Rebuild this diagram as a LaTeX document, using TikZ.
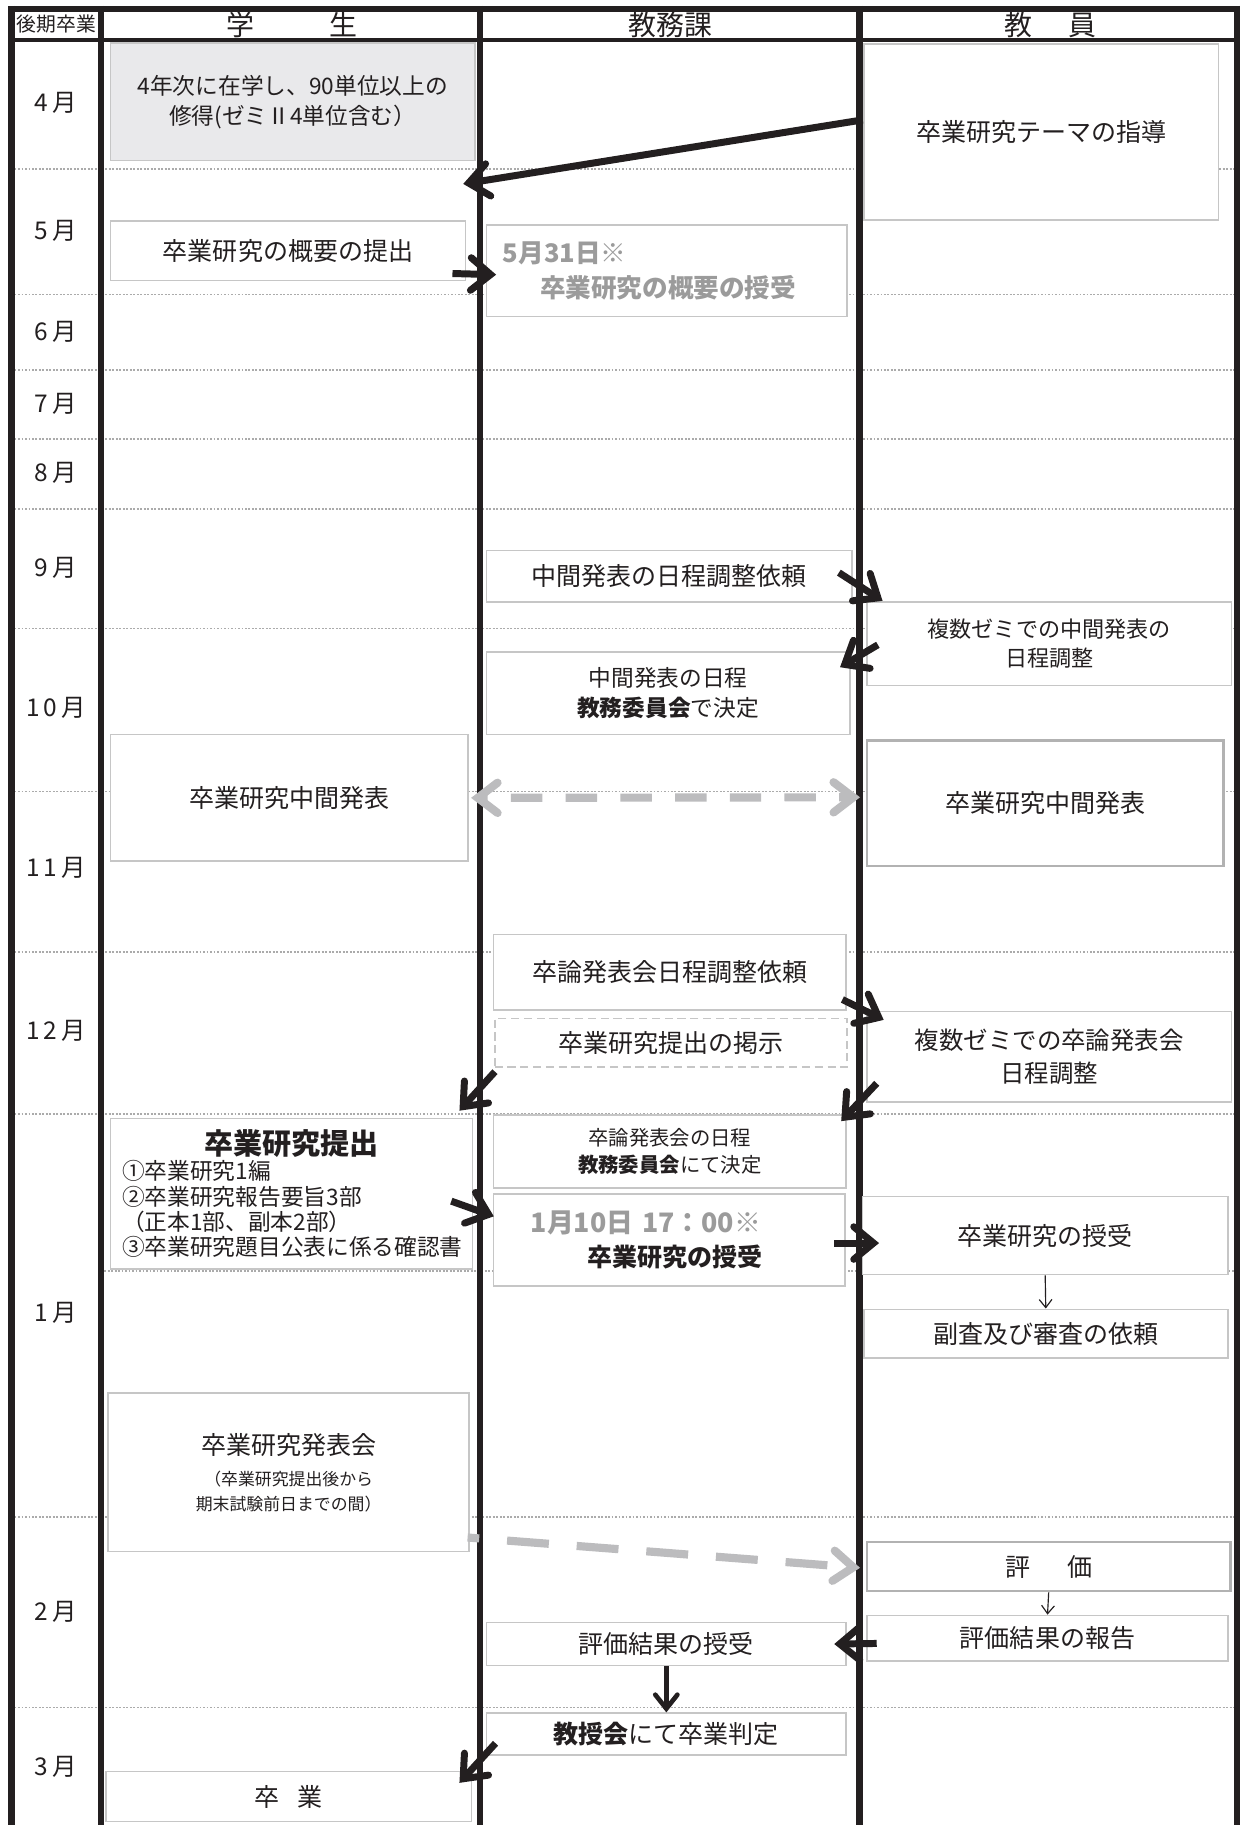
\documentclass[tikz,border=0pt]{standalone}
\usepackage{fontspec}
\setmainfont{Noto Sans CJK JP}
\usetikzlibrary{arrows.meta}
\definecolor{ink}{HTML}{231F20}
\definecolor{boxgray}{HTML}{C6C6C6}
\definecolor{fillgray}{HTML}{E9E9EB}
\definecolor{dotgray}{HTML}{ABABAB}
\definecolor{arrowgray}{HTML}{BCBCBE}
\definecolor{textgray}{HTML}{9B9B9B}
\newcommand\fsz[2]{\fontsize{#1pt}{#2pt}\selectfont}
\begin{document}
\begin{tikzpicture}[x=1pt,y=-1pt,
  every node/.append style={text=ink},
  box/.style={draw=boxgray, line width=1.5pt, fill=white, inner sep=0pt, align=center, font=\fsz{21.5}{26}},
  frameline/.style={draw=ink, line width=5.5pt},
  monthline/.style={draw=dotgray, line width=1.6pt, dash pattern=on 1.6pt off 1.4pt},
  fat/.style={draw=ink, line width=6pt, -{Straight Barb[length=17pt,width=28pt,line cap=round,line join=miter]}},
  midarrow/.style={draw=ink, line width=4pt, -{Straight Barb[length=12pt,width=19pt,line cap=round,line join=miter]}},
  thinarrow/.style={draw=ink, line width=1pt, -{Straight Barb[length=7pt,width=11pt]}},
  gtip/.tip={Straight Barb[length=17pt,width=26pt,line cap=round,line join=miter]},
  gdash/.style={draw=arrowgray, line width=7pt},
  month/.style={font=\fsz{21}{25}},
  head/.style={font=\fsz{24}{28}}
]
\path[use as bounding box, fill=white] (0,0) rectangle (1065,1568);

% month divider lines
\foreach \yy in {145,253,318,377,437,540,680,818,957,1303,1467}
  \draw[monthline] (12.5,\yy) -- (1060,\yy);
\draw[monthline] (89.5,1092) -- (1060,1092);

% frame
\draw[frameline] (7.5,7.6) -- (1065,7.6);
\draw[draw=ink, line width=3.8pt] (10,34.5) -- (1062.5,34.5);
\foreach \xx in {10,87,412.5,738.5}
  \draw[frameline] (\xx,5.1) -- (\xx,1568);
\draw[draw=ink, line width=4.5pt] (1062.75,5.1) -- (1062.75,1568);

% header
\node[font=\fsz{17}{20}] (hA) at (48.5,21) {後期卒業};
\node[head] (hB) at (251,21.5) {学\hspace{64pt}生};
\node[head] (hC) at (576,21.5) {教務課};
\node[head] (hD) at (902.5,21.5) {教\hspace{31pt}員};

% months
\node[month] (m4) at (48,88) {4\,月};
\node[month] (m5) at (48,198) {5\,月};
\node[month] (m6) at (48,285) {6\,月};
\node[month] (m7) at (48,347) {7\,月};
\node[month] (m8) at (48,406) {8\,月};
\node[month] (m9) at (48,488) {9\,月};
\node[month] (m10) at (48,608) {1\,0\,月};
\node[month] (m11) at (48,746) {1\,1\,月};
\node[month] (m12) at (48,886) {1\,2\,月};
\node[month] (m1) at (48,1128) {1\,月};
\node[month] (m2) at (48,1385) {2\,月};
\node[month] (m3) at (48,1518) {3\,月};

% student column
\node[box, fill=fillgray, minimum width=313pt, minimum height=101pt, font=\fsz{19.5}{26}] (b1) at (251.5,87.5)
  {4年次に在学し、90単位以上の\\修得(ゼミⅡ4単位含む）};
\node[box, minimum width=305pt, minimum height=51pt] (b2) at (247.5,215.5) {卒業研究の概要の提出};
\node[box, minimum width=307pt, minimum height=109pt] (b3) at (248.5,685.5) {卒業研究中間発表};
\node[box, minimum width=311pt, minimum height=129pt, text width=291pt, align=left, font=\fsz{19.5}{21.7}] (b4) at (250.5,1025.5)
  {\hfill{\bfseries\fsz{25}{21.7}卒業研究提出}\hfill\null\\①卒業研究1編\\②卒業研究報告要旨3部\\（正本1部、副本2部）\\③卒業研究題目公表に係る確認書};
\node[box, minimum width=310pt, minimum height=136pt, font=\fsz{21.5}{27}] (b5) at (248,1265)
  {卒業研究発表会\\{\fsz{14.5}{21}（卒業研究提出後から}\\[-6pt]{\fsz{14.5}{21}期末試験前日までの間）}};
\node[box, minimum width=314pt, minimum height=43pt] (b6) at (248,1543.5) {卒\hspace{16pt}業};

% kyomu column
\node[box, minimum width=310pt, minimum height=79pt, text width=282pt, align=left, text=textgray, font=\bfseries\fsz{22}{30}] (b7) at (573,232.5)
  {5月31日※\\\hspace*{32pt}卒業研究の概要の授受};
\node[box, minimum width=314pt, minimum height=44pt] (b8) at (575,495) {中間発表の日程調整依頼};
\node[box, minimum width=312pt, minimum height=71pt, font=\fsz{19.5}{26}] (b9) at (574,595.5) {中間発表の日程\\\textbf{教務委員会}で決定};
\node[box, minimum width=303pt, minimum height=65pt] (b10) at (575.5,835.5) {卒論発表会日程調整依頼};
\node[box, dashed, dash pattern=on 7pt off 4pt, minimum width=303pt, minimum height=42pt] (b11) at (576.5,896) {卒業研究提出の掲示};
\node[box, minimum width=303pt, minimum height=63pt, font=\fsz{17.5}{23}] (b12) at (575.5,989.5) {卒論発表会の日程\\\textbf{教務委員会}にて決定};
\node[box, minimum width=302pt, minimum height=79pt, text width=238pt, align=left, font=\bfseries\fsz{23}{29}] (b13) at (575,1065.5)
  {\textcolor{textgray}{1月10日 17：00※}\\\hspace*{49pt}{\fsz{21.5}{29}卒業研究の授受}};
\node[box, minimum width=309pt, minimum height=37pt] (b14) at (572.5,1412.5) {評価結果の授受};
\node[box, minimum width=309pt, minimum height=36pt] (b15) at (572.5,1490) {\textbf{教授会}にて卒業判定};

% faculty column
\node[box, minimum width=305pt, minimum height=151pt] (b16) at (894.5,113.5) {卒業研究テーマの指導};
\node[box, minimum width=313pt, minimum height=72pt, font=\fsz{19}{25}] (b17) at (901.5,553) {複数ゼミでの中間発表の\\日程調整};
\node[box, line width=2.2pt, draw=boxgray!90!black, minimum width=306pt, minimum height=108pt] (b18) at (898,690) {卒業研究中間発表};
\node[box, minimum width=313pt, minimum height=78pt, font=\fsz{21}{29}] (b19) at (901.5,908) {複数ゼミでの卒論発表会\\日程調整};
\node[box, minimum width=314pt, minimum height=67pt] (b20) at (898,1061.5) {卒業研究の授受};
\node[box, minimum width=313pt, minimum height=42pt] (b21) at (898.5,1146) {副査及び審査の依頼};
\node[box, line width=2.2pt, draw=boxgray!90!black, minimum width=312pt, minimum height=42pt] (b22) at (901,1346) {評\hspace{32pt}価};
\node[box, minimum width=310pt, minimum height=39pt] (b23) at (900,1407.5) {評価結果の報告};

% arrows
\coordinate (e1) at (398,158);
\draw[fat] ([shift={(0,-10.5)}]b16.west) -- (e1);
\draw[fat] ([shift={(-12,19.5)}]b2.east) -- ([shift={(9,3.5)}]b7.west);
\draw[fat] ([shift={(-12,-3)}]b8.east) -- ([shift={(14,0)}]b17.north west);
\draw[fat] ([shift={(10,1)}]b17.west) -- ([shift={(-9,14)}]b9.north east);
\draw[gdash, dash pattern=on 27pt off 20pt, dash phase=22pt, gtip-gtip] ([shift={(2,0)}]b3.east) -- ([shift={(-5,-5)}]b18.west);
\draw[fat] ([shift={(-4,-10)}]b10.south east) -- ([shift={(15,8)}]b19.north west);
\draw[fat] ([shift={(1,3)}]b11.south west) -- ([shift={(-12,-6)}]b4.north east);
\draw[fat] ([shift={(9,-17)}]b19.south west) -- ([shift={(-5,6)}]b12.north east);
\draw[fat] ([shift={(-19,6.5)}]b4.east) -- ([shift={(1,-20.5)}]b13.west);
\draw[fat] ([shift={(-10,2.5)}]b13.east) -- ([shift={(15,6.5)}]b20.west);
\draw[thinarrow] (b20.south) -- (b21.north);
\draw[gdash, dash pattern=on 36pt off 24pt, dash phase=26pt, -gtip] ([shift={(-2,56)}]b5.east) -- ([shift={(-5,1)}]b22.west);
\draw[thinarrow] (b22.south) -- (b23.north);
\draw[fat] ([shift={(9,4.5)}]b23.west) -- ([shift={(-11,0)}]b14.east);
\draw[midarrow] (b14.south) -- (b15.north);
\draw[fat] ([shift={(8.5,-11)}]b15.south west) -- ([shift={(-11,10.5)}]b6.north east);
\end{tikzpicture}
\end{document}
